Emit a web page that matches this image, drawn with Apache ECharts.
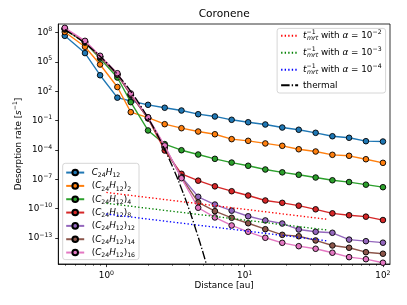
<!DOCTYPE html>
<html><head><meta charset="utf-8">
<script src="https://cdn.jsdelivr.net/npm/echarts@6/dist/echarts.min.js"></script>
<style>html,body{margin:0;padding:0;background:#fff}#c{width:407px;height:305px}</style>
</head><body><div id="c"></div>
<script>
// ---- data ----
const distances = [0.5, 0.7, 0.9, 1.2, 1.5, 2.0, 2.64, 3.49, 4.61, 6.09, 8.05, 10.6, 14.1, 18.7, 24.6, 32.6, 43.1, 56.9, 75.3, 100];
const rateMonomer = [4.57e7, 7.9e5, 4.3e3, 21.9, 10, 4.07, 2.04, 1.07, 0.447, 0.263, 0.120, 0.0676, 0.0398, 0.0195, 0.0115, 5.6e-3, 2.5e-3, 1.74e-3, 7.8e-4, 7.2e-4];
const rateN2 = [1.12e8, 3.47e6, 5.37e4, 269, 0.724, 0.204, 0.0427, 0.0166, 7.6e-3, 4.0e-3, 1.26e-3, 8.5e-4, 4.6e-4, 2.63e-4, 1.17e-4, 6.9e-5, 3.16e-5, 2.51e-5, 1.12e-5, 4.8e-6];
const rateN4 = [2.0e8, 9.5e6, 2.24e5, 2.51e3, 7.59, 9.8e-3, 3.9e-4, 9.3e-5, 3.4e-5, 1.23e-5, 5.1e-6, 2.4e-6, 1.0e-6, 5.1e-7, 2.9e-7, 1.51e-7, 7.9e-8, 5.2e-8, 2.8e-8, 1.55e-8];
const rateN8 = [2.4e8, 1.07e7, 3.16e5, 5.0e3, 41.7, 0.166, 8.7e-5, 3.6e-7, 7.2e-8, 1.9e-8, 6.0e-9, 2.19e-9, 6.8e-10, 3.9e-10, 2.0e-10, 8.5e-11, 3.3e-11, 2.1e-11, 1.51e-11, 6.8e-12];
const rateN12 = [2.5e8, 1.12e7, 3.3e5, 5.2e3, 44.7, 0.178, 2.0e-4, 1.78e-7, 1.62e-9, 2.6e-10, 6.2e-11, 1.66e-11, 6.2e-12, 3.0e-12, 7.4e-13, 4.3e-13, 3.4e-13, 6.8e-14, 4.7e-14, 3.3e-14];
const rateN14 = [2.5e8, 1.12e7, 3.3e5, 5.2e3, 44.7, 0.178, 1.78e-4, 1.58e-7, 4.3e-10, 5.5e-11, 1.15e-11, 3.2e-12, 7.9e-13, 2.1e-13, 1.51e-13, 5.6e-14, 1.7e-14, 1.0e-14, 3.5e-15, 2.45e-15];
const rateN16 = [3.0e8, 1.41e7, 4.2e5, 6.9e3, 58.9, 0.219, 2.8e-4, 1.29e-7, 1.23e-10, 1.26e-11, 1.9e-12, 4.3e-13, 1.05e-13, 3.2e-14, 1.45e-14, 7.9e-15, 3.1e-15, 1.1e-15, 6.8e-16, 2.95e-16];

const thermalDistance = [0.5, 0.6, 0.7, 0.8, 0.9, 1.0, 1.2, 1.5, 2.0, 2.5, 3.0, 3.5, 4.0, 4.5, 5.0, 5.5];
const thermalRate = [2.0e8, 3.8e7, 7.8e6, 1.66e6, 3.7e5, 8.7e4, 5.2e3, 98, 0.19, 5.5e-4, 2.1e-6, 1.02e-8, 5.8e-11, 3.7e-13, 3.1e-15, 2.7e-17];

const mrtDistance = [1, 40];
const mrtAlpha2 = [4.5e-9, 7.9e-12];
const mrtAlpha3 = [3.5e-10, 6.3e-13];
const mrtAlpha4 = [2.8e-11, 5.0e-14];

const seriesNames = ['C24H12', '(C24H12)2', '(C24H12)4', '(C24H12)8', '(C24H12)12', '(C24H12)14', '(C24H12)16'];
const clusterSizes = ['', '2', '4', '8', '12', '14', '16'];
const mrtNames = ['alpha-2', 'alpha-3', 'alpha-4'];
const mrtExponents = ['−2', '−3', '−4'];
const thermalName = 'thermal';

const yTickExponents = [8, 5, 2, -1, -4, -7, -10, -13];
const xTickValues = [1, 10, 100];
const xMinorTickValues = [0.5, 0.6, 0.7, 0.8, 0.9, 2, 3, 4, 5, 6, 7, 8, 9, 20, 30, 40, 50, 60, 70, 80, 90];

// ---- styling ----
const FONT = 'DejaVu Sans';
const FS = 8.83;
const palette = ['#1f77b4', '#ff7f0e', '#2ca02c', '#d62728', '#9467bd', '#8c564b', '#e377c2'];
const mrtColors = ['#ff0000', '#008000', '#0000ff'];
function st(extra) { return Object.assign({fontFamily: FONT, fontSize: FS, color: '#000'}, extra); }
function makeRich(lh) {
  return {
    b: st({lineHeight: lh}),
    n: st({lineHeight: lh}),
    n0: st({lineHeight: lh, padding: [0, 0, 0, 2.5]}),
    i: st({fontStyle: 'italic', lineHeight: lh}),
    i0: st({fontStyle: 'italic', lineHeight: lh, padding: [0, 0, 0, 2.5]}),
    sub: st({fontSize: 6.2, lineHeight: 6, verticalAlign: 'bottom'}),
    subi: st({fontSize: 6.2, fontStyle: 'italic', lineHeight: 6, verticalAlign: 'bottom'}),
    sup: st({fontSize: 6.2, lineHeight: 6, verticalAlign: 'top'}),
    sup0: st({fontSize: 6.2, lineHeight: 6, verticalAlign: 'top', width: 0.5, align: 'left'})
  };
}
const lg = v => Math.log10(v);
const fmtExp = e => (e < 0 ? '−' + (-e) : '' + e);

function speciesLabel(idx) {
  if (!clusterSizes[idx]) return '{i0|C}{sub|24}{i|H}{sub|12}';
  return '{n0|(}{i|C}{sub|24}{i|H}{sub|12}{n|)}{sub|' + clusterSizes[idx] + '}';
}

const series = [];
const allRates = [rateMonomer, rateN2, rateN4, rateN8, rateN12, rateN14, rateN16];
seriesNames.forEach((name, k) => {
  series.push({
    type: 'line', name: name, z: 2 + k,
    data: distances.map((d, j) => [lg(d), lg(allRates[k][j])]),
    symbol: 'circle', symbolSize: 5.6, showSymbol: true,
    lineStyle: {color: palette[k], width: 1.35},
    itemStyle: {color: palette[k], borderColor: '#000', borderWidth: 0.9},
    emphasis: {disabled: true}, clip: true, animation: false
  });
});
[mrtAlpha2, mrtAlpha3, mrtAlpha4].forEach((rates, k) => {
  series.push({
    type: 'line', name: mrtNames[k], z: 10 + k,
    data: mrtDistance.map((d, j) => [lg(d), lg(rates[j])]),
    symbol: 'none',
    lineStyle: {color: mrtColors[k], width: 1.35, type: [1.35, 2.2], cap: 'butt'},
    itemStyle: {color: mrtColors[k]},
    emphasis: {disabled: true}, clip: true, animation: false
  });
});
series.push({
  type: 'line', name: thermalName, z: 14,
  data: thermalDistance.map((d, j) => [lg(d), lg(thermalRate[j])]),
  symbol: 'none', smooth: 0.35,
  lineStyle: {color: '#000', width: 1.35, type: [8.5, 2.1, 1.35, 2.1], cap: 'butt'},
  itemStyle: {color: '#000'},
  emphasis: {disabled: true}, clip: true, animation: false
});

const xMin = -0.348, xMax = 2.051, yMin = -15.66, yMax = 8.87;
const rich12 = makeRich(12);

const option = {
  animation: false,
  backgroundColor: '#fff',
  title: {
    text: 'Coronene', left: 224.2, top: 8.5, textAlign: 'center', padding: 0,
    textStyle: {fontFamily: FONT, fontSize: 10.6, fontWeight: 'normal', color: '#000'}
  },
  grid: {left: 58.3, right: 17, top: 24, bottom: 41, show: true, borderColor: '#000', borderWidth: 0.8, backgroundColor: 'transparent', containLabel: false},
  xAxis: [{
    type: 'value', min: xMin, max: xMax, position: 'bottom',
    name: 'Distance [au]', nameLocation: 'middle', nameGap: 17, nameMoveOverlap: false,
    nameTextStyle: {fontFamily: FONT, fontSize: FS, color: '#000'},
    axisLine: {show: true, onZero: false, lineStyle: {color: '#000', width: 0.8}},
    axisTick: {show: true, length: 3.1, lineStyle: {color: '#000', width: 0.8}, customValues: xTickValues.map(lg)},
    axisLabel: {show: true, margin: 6, customValues: xTickValues.map(lg), color: '#000',
      formatter: v => '{b|10}{sup|' + fmtExp(Math.round(v)) + '}', rich: rich12},
    splitLine: {show: false}
  }, {
    type: 'value', min: xMin, max: xMax, position: 'bottom',
    axisLine: {show: false, onZero: false},
    axisTick: {show: true, length: 1.8, lineStyle: {color: '#000', width: 0.6}, customValues: xMinorTickValues.map(lg)},
    axisLabel: {show: false},
    splitLine: {show: false}
  }],
  yAxis: [{
    type: 'value', min: yMin, max: yMax, position: 'left',
    name: '{n|Desorption rate [}{i|s}{sup|−1}{n|]}', nameLocation: 'middle', nameGap: 34, nameRotate: 90, nameMoveOverlap: false,
    nameTextStyle: {fontFamily: FONT, fontSize: FS, color: '#000', rich: rich12},
    axisLine: {show: true, onZero: false, lineStyle: {color: '#000', width: 0.8}},
    axisTick: {show: true, length: 3.1, lineStyle: {color: '#000', width: 0.8}, customValues: yTickExponents},
    axisLabel: {show: true, margin: 6, customValues: yTickExponents, color: '#000',
      formatter: v => '{b|10}{sup|' + fmtExp(Math.round(v)) + '}', rich: rich12},
    splitLine: {show: false}
  }],
  legend: [{
    data: seriesNames, orient: 'vertical', left: 62.7, bottom: 45.4,
    itemWidth: 18, itemHeight: 7, itemGap: 2.83, selectedMode: false,
    padding: [4.75, 4, 1.05, 2.5],
    backgroundColor: 'rgba(255,255,255,0.8)', borderColor: '#cccccc', borderWidth: 0.8, borderRadius: 2.5,
    textStyle: {fontFamily: FONT, fontSize: FS, color: '#000', rich: rich12},
    formatter: name => speciesLabel(seriesNames.indexOf(name))
  }, {
    data: mrtNames.concat([thermalName]).map(nm => ({name: nm, itemStyle: {opacity: 0}})),
    orient: 'vertical', right: 21.4, top: 28.4,
    itemWidth: 17, itemHeight: 7, itemGap: 5, selectedMode: false,
    padding: [1.35, 4, 3.25, 3],
    backgroundColor: 'rgba(255,255,255,0.8)', borderColor: '#cccccc', borderWidth: 0.8, borderRadius: 2.5,
    textStyle: {fontFamily: FONT, fontSize: FS, color: '#000', rich: rich12},
    formatter: name => {
      const k = mrtNames.indexOf(name);
      if (k < 0) return '{n|thermal}';
      return '{i|t}{sup0|−1}{subi|mrt}{n| with }{i|α}{n| = 10}{sup|' + mrtExponents[k] + '}';
    }
  }],
  series: series
};
const chart = echarts.init(document.getElementById('c'), null, {renderer: 'canvas', devicePixelRatio: 1});
chart.setOption(option);
</script></body></html>
